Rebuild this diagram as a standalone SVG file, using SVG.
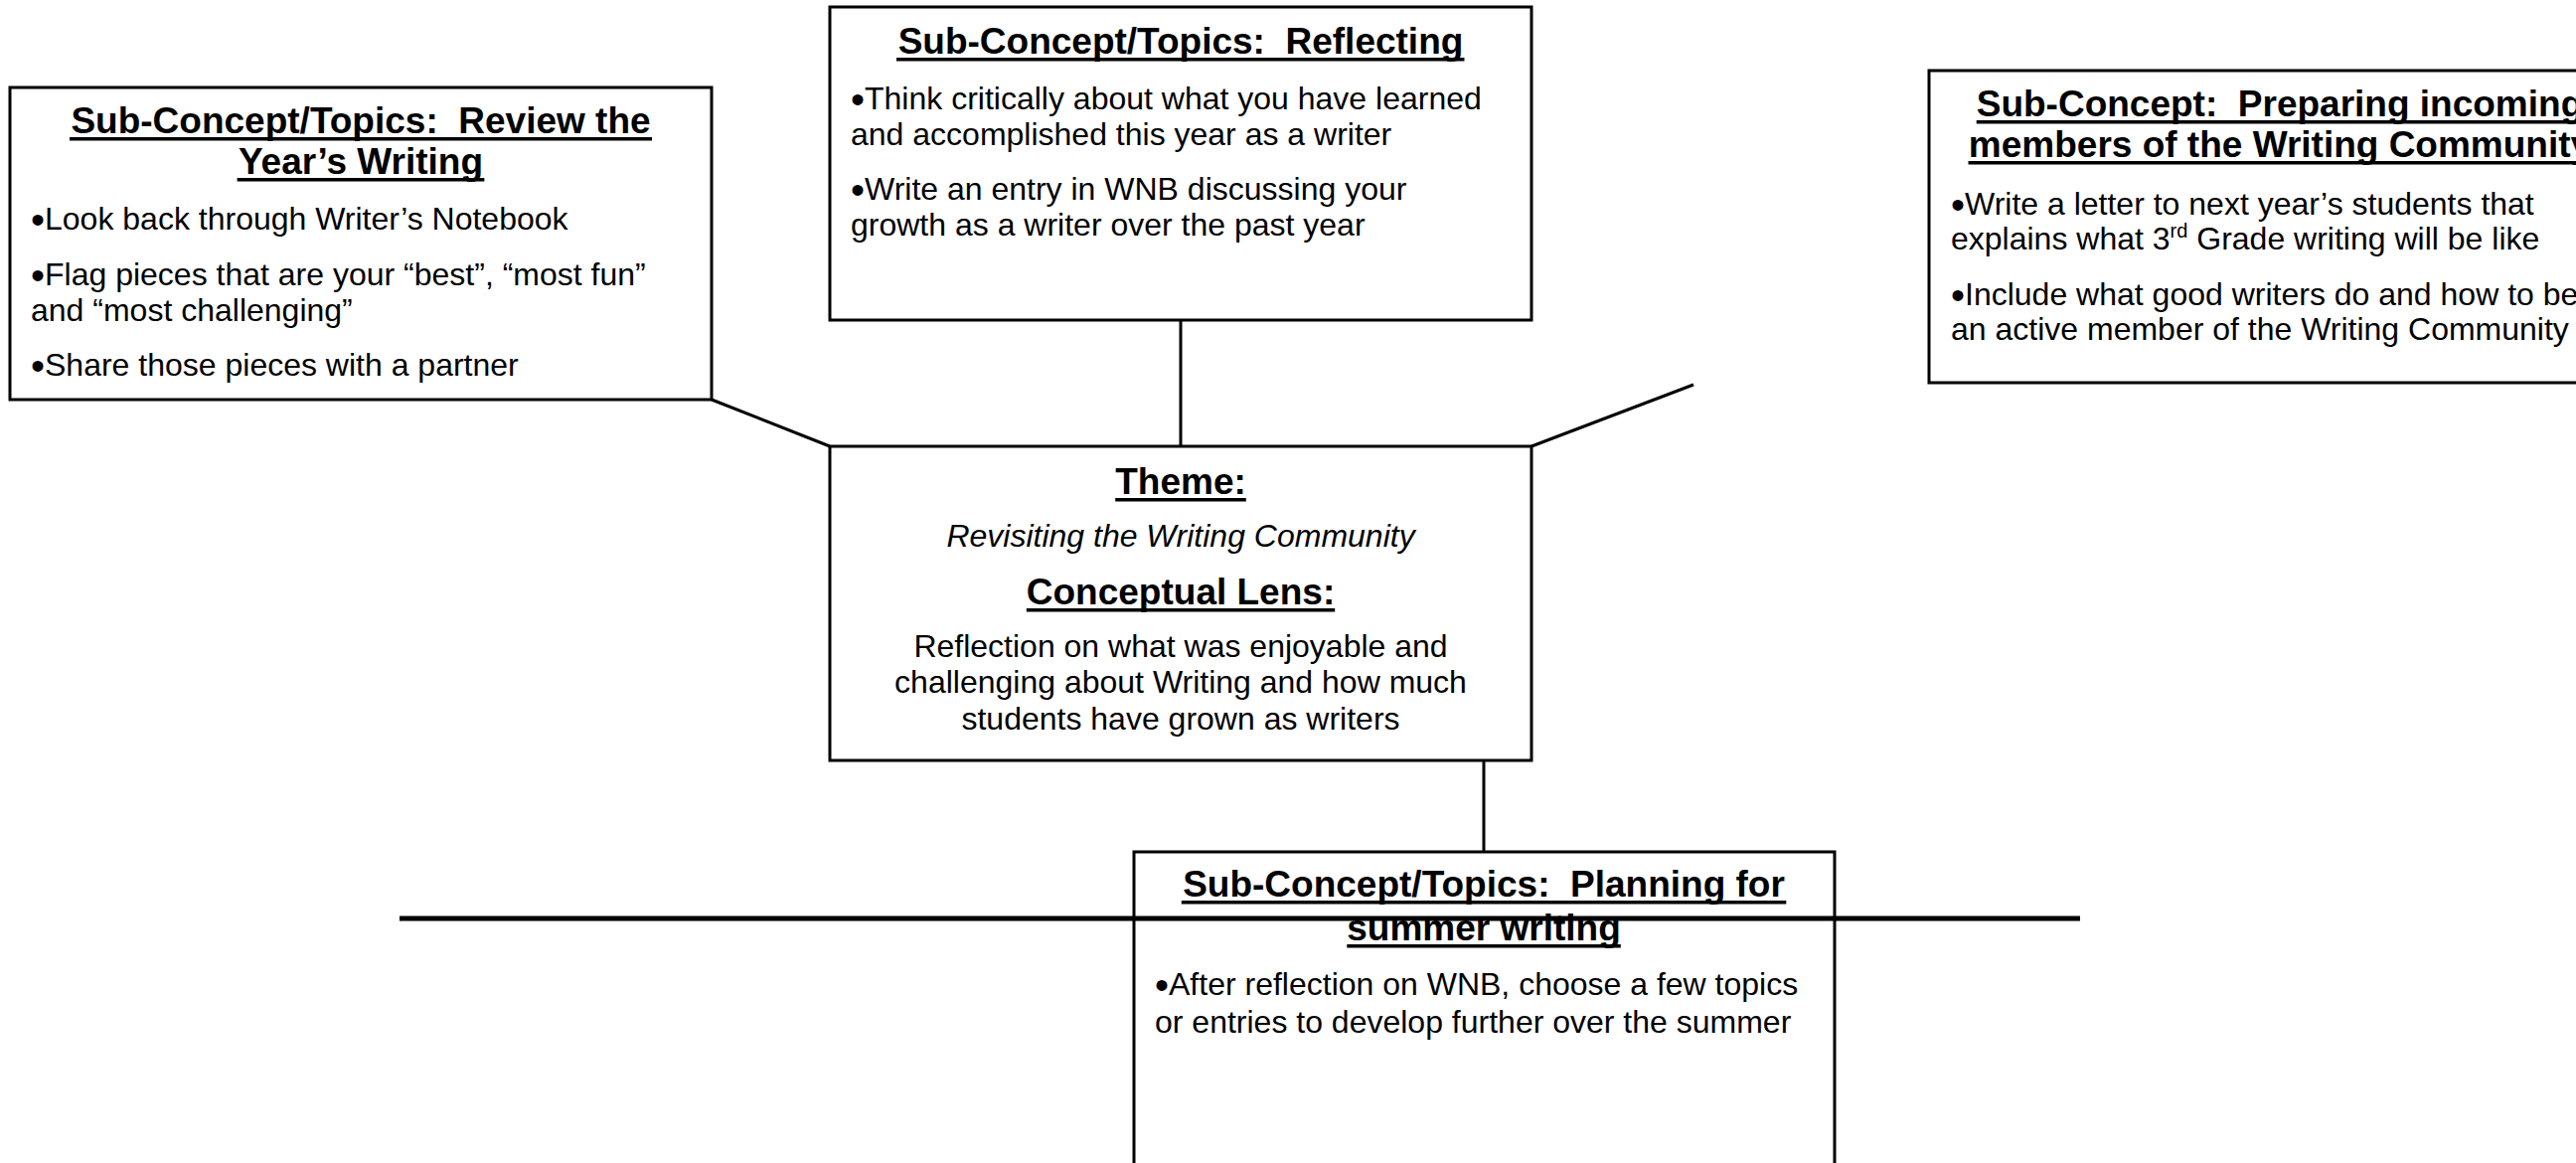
<svg xmlns="http://www.w3.org/2000/svg" width="2592" height="1170" viewBox="0 0 2592 1170">
  <style>
    .box { fill: #fff; stroke: #000; stroke-width: 3; }
    .conn { fill: none; stroke: #000; stroke-width: 3; }
    .axis { fill: none; stroke: #000; stroke-width: 5; }
    .ttl { font-family: "Liberation Sans", Arial, sans-serif; font-size: 37px; font-weight: bold; text-anchor: middle; fill: #000; }
    .txt { font-family: "Liberation Sans", Arial, sans-serif; font-size: 32px; fill: #000; }
    .bul { font-size: 40px; }
    .mid { text-anchor: middle; }
    .it { font-style: italic; }
    .ul { fill: #000; }
  </style>
  <rect x="0" y="0" width="2592" height="1170" fill="#fff"/>

  <!-- connector lines between the theme box and the sub-concept boxes -->
  <g id="connectors">
    <line class="conn" x1="1188" y1="322" x2="1188" y2="449"/>
    <line class="conn" x1="716" y1="402" x2="835" y2="449"/>
    <line class="conn" x1="1541" y1="449" x2="1704" y2="387"/>
    <line class="conn" x1="1493" y1="765" x2="1493" y2="857"/>
  </g>

  <!-- sub-concept: review the year's writing -->
  <g id="review">
    <rect class="box" x="10" y="88" width="706" height="314"/>
    <text class="ttl" x="363" y="134">Sub-Concept/Topics:&#160; Review the</text>
    <rect class="ul" x="70" y="138" width="586" height="3.5"/>
    <text class="ttl" x="363" y="175">Year’s Writing</text>
    <rect class="ul" x="238.6" y="179" width="248.8" height="3.5"/>
    <text class="txt" x="31" y="231"><tspan class="bul" dy="4">•</tspan><tspan dy="-4">Look back through Writer’s Notebook</tspan></text>
    <text class="txt" x="31" y="287"><tspan class="bul" dy="4">•</tspan><tspan dy="-4">Flag pieces that are your “best”, “most fun”</tspan></text>
    <text class="txt" x="31" y="323">and “most challenging”</text>
    <text class="txt" x="31" y="378"><tspan class="bul" dy="4">•</tspan><tspan dy="-4">Share those pieces with a partner</tspan></text>
  </g>

  <!-- sub-concept: reflecting -->
  <g id="reflecting">
    <rect class="box" x="835" y="7" width="706" height="315"/>
    <text class="ttl" x="1188" y="54">Sub-Concept/Topics:&#160; Reflecting</text>
    <rect class="ul" x="902" y="58" width="571.5" height="3.5"/>
    <text class="txt" x="856" y="110"><tspan class="bul" dy="4">•</tspan><tspan dy="-4">Think critically about what you have learned</tspan></text>
    <text class="txt" x="856" y="146">and accomplished this year as a writer</text>
    <text class="txt" x="856" y="201"><tspan class="bul" dy="4">•</tspan><tspan dy="-4">Write an entry in WNB discussing your</tspan></text>
    <text class="txt" x="856" y="237">growth as a writer over the past year</text>
  </g>

  <!-- sub-concept: preparing incoming members -->
  <g id="preparing">
    <rect class="box" x="1941" y="71" width="706" height="314"/>
    <text class="ttl" x="2294" y="117">Sub-Concept:&#160; Preparing incoming</text>
    <rect class="ul" x="1988.7" y="121" width="610.6" height="3.5"/>
    <text class="ttl" x="2294" y="158">members of the Writing Community</text>
    <rect class="ul" x="1980.5" y="162" width="627" height="3.5"/>
    <text class="txt" x="1963" y="216"><tspan class="bul" dy="4">•</tspan><tspan dy="-4">Write a letter to next year’s students that</tspan></text>
    <text class="txt" x="1963" y="251">explains what 3<tspan font-size="20" dy="-12">rd</tspan><tspan dy="12"> Grade writing will be like</tspan></text>
    <text class="txt" x="1963" y="307"><tspan class="bul" dy="4">•</tspan><tspan dy="-4">Include what good writers do and how to be</tspan></text>
    <text class="txt" x="1963" y="342">an active member of the Writing Community</text>
  </g>

  <!-- theme and conceptual lens -->
  <g id="theme">
    <rect class="box" x="835" y="449" width="706" height="316"/>
    <text class="ttl" x="1188" y="497">Theme:</text>
    <rect class="ul" x="1122.2" y="501" width="131.6" height="3.5"/>
    <text class="txt mid it" x="1188" y="550">Revisiting the Writing Community</text>
    <text class="ttl" x="1188" y="608">Conceptual Lens:</text>
    <rect class="ul" x="1032.8" y="612" width="310.4" height="3.5"/>
    <text class="txt mid" x="1188" y="661">Reflection on what was enjoyable and</text>
    <text class="txt mid" x="1188" y="697">challenging about Writing and how much</text>
    <text class="txt mid" x="1188" y="734">students have grown as writers</text>
  </g>

  <!-- sub-concept: planning for summer writing -->
  <g id="planning">
    <rect class="box" x="1141" y="857" width="705" height="330"/>
    <text class="ttl" x="1493" y="902">Sub-Concept/Topics:&#160; Planning for</text>
    <rect class="ul" x="1188.8" y="906" width="608.5" height="3.5"/>
    <text class="ttl" x="1493" y="946">summer writing</text>
    <rect class="ul" x="1355.3" y="950" width="275.5" height="3.5"/>
    <text class="txt" x="1162" y="1001"><tspan class="bul" dy="4">•</tspan><tspan dy="-4">After reflection on WNB, choose a few topics</tspan></text>
    <text class="txt" x="1162" y="1039">or entries to develop further over the summer</text>
  </g>

  <!-- horizontal axis line across the lower half -->
  <g id="axis">
    <line class="axis" x1="402" y1="924" x2="2093" y2="924"/>
  </g>
</svg>
